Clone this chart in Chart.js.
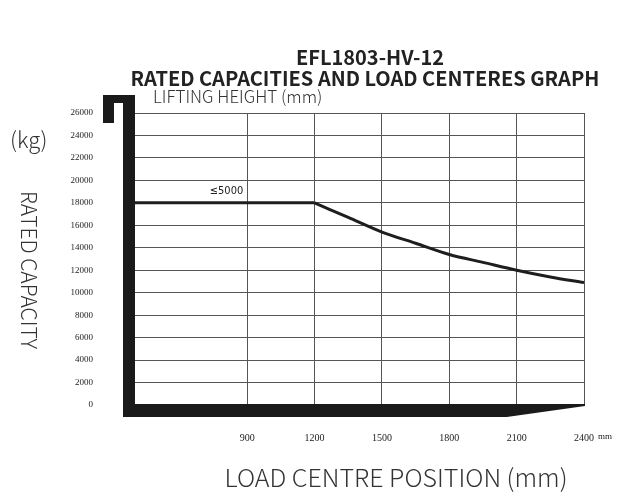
<!DOCTYPE html>
<html>
<head>
<meta charset="utf-8">
<script src="https://cdn.jsdelivr.net/npm/chart.js@4"></script>
<style>
  html, body { margin: 0; padding: 0; background: #fff; }
  #wrap { width: 627px; height: 492px; }
</style>
</head>
<body>
<div id="wrap"><canvas id="grafico"></canvas></div>
<script>
// === Datos ===
const flatCentre = [400, 1200];
const flatCapacity = [18000, 18000];
const curveCentre = [1200, 1350, 1500, 1650, 1800, 1950, 2100, 2250, 2400];
const curveCapacity = [18000, 16700, 15400, 14400, 13400, 12700, 12000, 11400, 10900];
const xTicks = [900, 1200, 1500, 1800, 2100, 2400];
const yTicks = [0, 2000, 4000, 6000, 8000, 10000, 12000, 14000, 16000, 18000, 20000, 22000, 24000, 26000];
const heightLabel = "≤5000";

const titleLines = ["EFL1803-HV-12", "RATED CAPACITIES AND LOAD CENTERES GRAPH"];
const lightFont = '"Noto Sans CJK SC", "Noto Sans", sans-serif';
const tickFont = '"Liberation Serif", "DejaVu Serif", serif';

const toPoints = (xs, ys) => xs.map((x, i) => ({ x, y: ys[i] }));

// === Decoración: textos y barra en forma de horquilla ===
const decor = {
  id: "decor",
  afterDatasetsDraw(chart) {
    const { ctx, chartArea: a, scales } = chart;
    const L = a.left, R = a.right, T = a.top, B = a.bottom;
    ctx.save();
    ctx.fillStyle = "#1a1a1a";
    // barra vertical + gancho
    ctx.fillRect(L - 12, T - 18, 12, B - T + 30);
    ctx.fillRect(L - 32, T - 18, 32, 8);
    ctx.fillRect(L - 32, T - 18, 11, 28);
    // barra inferior con punta
    const taperX = scales.x.getPixelForValue(2056);
    ctx.beginPath();
    ctx.moveTo(L - 12, B - 1);
    ctx.lineTo(R + 1, B - 1);
    ctx.lineTo(R + 1, B + 1);
    ctx.lineTo(taperX, B + 12);
    ctx.lineTo(L - 12, B + 12);
    ctx.closePath();
    ctx.fill();

    ctx.textBaseline = "middle";

    // etiqueta ≤5000
    ctx.fillStyle = "#222";
    ctx.font = '11px "Liberation Sans Narrow", "DejaVu Sans Condensed", sans-serif';
    ctx.textAlign = "right";
    ctx.fillText(heightLabel, scales.x.getPixelForValue(900) - 4, scales.y.getPixelForValue(18000) - 12);

    // mm tras el último tick
    ctx.font = "9px " + tickFont;
    ctx.textAlign = "left";
    ctx.fillText("mm", scales.x.getPixelForValue(2400) + 14, 437);

    // títulos
    ctx.fillStyle = "#222";
    ctx.textAlign = "center";
    ctx.font = "bold 20px " + lightFont;
    ctx.fillText(titleLines[0], 370, 57);
    ctx.fillText(titleLines[1], 365, 78);

    ctx.fillStyle = "#333";
    ctx.font = "300 17px " + lightFont;
    ctx.textAlign = "left";
    ctx.fillText("LIFTING HEIGHT (mm)", 153, 97);

    ctx.font = "300 22px " + lightFont;
    ctx.fillText("(kg)", 10, 140);

    ctx.textAlign = "center";
    ctx.font = "300 25px " + lightFont;
    ctx.fillText("LOAD CENTRE POSITION (mm)", 396, 477);

    ctx.save();
    ctx.translate(29, 270);
    ctx.rotate(Math.PI / 2);
    ctx.font = "300 21px " + lightFont;
    ctx.fillText("RATED CAPACITY", 0, 0);
    ctx.restore();

    ctx.restore();
  }
};

// === Gráfico ===
new Chart(document.getElementById("grafico"), {
  type: "line",
  data: {
    datasets: [
      {
        data: toPoints(flatCentre, flatCapacity),
        borderColor: "#1e1e1e",
        borderWidth: 3,
        pointRadius: 0,
        tension: 0
      },
      {
        data: toPoints(curveCentre, curveCapacity),
        borderColor: "#1e1e1e",
        borderWidth: 3,
        pointRadius: 0,
        cubicInterpolationMode: "monotone"
      }
    ]
  },
  options: {
    responsive: true,
    maintainAspectRatio: false,
    animation: false,
    layout: { padding: { top: 113, right: 43, left: 0, bottom: 0 } },
    plugins: {
      legend: { display: false },
      tooltip: { enabled: false }
    },
    scales: {
      x: {
        type: "linear",
        min: 400,
        max: 2400,
        afterBuildTicks: (s) => { s.ticks = xTicks.map(v => ({ value: v })); },
        afterFit: (s) => { s.height = 87; },
        border: { display: false },
        grid: { color: "#555", lineWidth: 1, drawTicks: false },
        ticks: {
          color: "#222",
          padding: 27,
          font: { family: tickFont, size: 10 },
          callback: (v) => String(v)
        }
      },
      y: {
        type: "linear",
        min: 0,
        max: 26000,
        afterBuildTicks: (s) => { s.ticks = yTicks.map(v => ({ value: v })); },
        afterFit: (s) => { s.width = 135; },
        border: { display: false },
        grid: { color: "#555", lineWidth: 1, drawTicks: false },
        ticks: {
          color: "#222",
          padding: 42,
          font: { family: tickFont, size: 9 },
          callback: (v) => String(v)
        }
      }
    }
  },
  plugins: [decor]
});
</script>
</body>
</html>
